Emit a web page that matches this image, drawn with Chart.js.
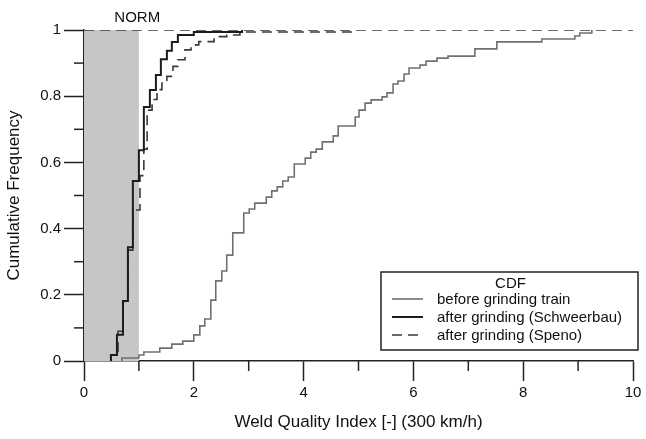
<!DOCTYPE html>
<html><head><meta charset="utf-8">
<script src="https://cdn.jsdelivr.net/npm/chart.js@4.4.1/dist/chart.umd.min.js"></script>
<style>html,body{margin:0;padding:0;background:#fff;} #wrap{width:646px;height:439px;position:relative;}</style>
</head><body><div id="wrap"><canvas id="c" width="646" height="439"></canvas></div>
<script>
// ---- data ----
const greyX = [0.69, 0.69, 1.00, 1.09, 1.38, 1.60, 1.80, 2.00, 2.11, 2.20, 2.31, 2.40, 2.51, 2.60, 2.71, 2.91, 3.01, 3.11, 3.32, 3.42, 3.52, 3.62, 3.72, 3.83, 4.03, 4.13, 4.23, 4.34, 4.54, 4.63, 4.94, 5.01, 5.12, 5.23, 5.43, 5.52, 5.63, 5.72, 5.83, 5.92, 6.12, 6.23, 6.43, 6.63, 7.12, 7.52, 8.34, 8.94, 9.03, 9.25];
const greyY = [0, 0.009, 0.018, 0.027, 0.039, 0.051, 0.060, 0.079, 0.106, 0.127, 0.184, 0.242, 0.272, 0.320, 0.387, 0.447, 0.459, 0.477, 0.495, 0.514, 0.526, 0.544, 0.556, 0.595, 0.613, 0.631, 0.640, 0.662, 0.680, 0.710, 0.737, 0.758, 0.779, 0.789, 0.798, 0.810, 0.837, 0.846, 0.867, 0.885, 0.894, 0.906, 0.915, 0.921, 0.943, 0.964, 0.973, 0.982, 0.991, 1.0];
const blackX = [0.49, 0.49, 0.60, 0.71, 0.80, 0.89, 1.00, 1.09, 1.20, 1.31, 1.40, 1.51, 1.60, 1.71, 2.00, 2.88];
const blackY = [0, 0.018, 0.079, 0.181, 0.344, 0.544, 0.637, 0.767, 0.819, 0.864, 0.912, 0.937, 0.964, 0.985, 0.994, 1.0];
const spenoX = [0.49, 0.49, 0.62, 0.71, 0.80, 0.89, 1.02, 1.09, 1.15, 1.24, 1.33, 1.42, 1.51, 1.62, 1.71, 1.84, 1.95, 2.09, 2.37, 2.60, 2.84, 4.88];
const spenoY = [0, 0.018, 0.09, 0.18, 0.335, 0.456, 0.56, 0.64, 0.758, 0.79, 0.82, 0.84, 0.86, 0.89, 0.91, 0.94, 0.955, 0.965, 0.98, 0.985, 0.994, 1.0];
const refX = [0, 10];
const refY = [1, 1];
const normX = [0, 1];
const normY = [1, 1];
const normLabel = 'NORM';
const normLabelX = 0.97;
const seriesNames = ['before grinding train', 'after grinding (Schweerbau)', 'after grinding (Speno)'];
const legendTitle = 'CDF';
const xTitle = 'Weld Quality Index [-] (300 km/h)';
const yTitle = 'Cumulative Frequency';
const xMinorTicks = [1, 3, 5, 7, 9];
const yMinorTicks = [0.1, 0.3, 0.5, 0.7, 0.9];

const pts = (xs, ys) => xs.map((x, i) => ({x: x, y: ys[i]}));
const FONT = 'Liberation Sans, Arial, Helvetica, sans-serif';
const AX = '#222';

const styles = [
  {color: '#707070', width: 1.6, dash: []},
  {color: '#1c1c1c', width: 2.0, dash: []},
  {color: '#3a3a3a', width: 1.6, dash: [10, 6]}
];

const extras = {
  id: 'extras',
  afterDraw(chart) {
    const ctx = chart.ctx, xs = chart.scales.x, ys = chart.scales.y, ca = chart.chartArea;
    ctx.save();
    ctx.strokeStyle = AX; ctx.lineWidth = 1.5;
    xMinorTicks.forEach(v => { const p = xs.getPixelForValue(v); ctx.beginPath(); ctx.moveTo(p, ca.bottom); ctx.lineTo(p, ca.bottom + 10); ctx.stroke(); });
    yMinorTicks.forEach(v => { const p = ys.getPixelForValue(v); ctx.beginPath(); ctx.moveTo(ca.left - 10, p); ctx.lineTo(ca.left, p); ctx.stroke(); });
    // NORM label
    ctx.fillStyle = '#111'; ctx.font = '15px ' + FONT; ctx.textAlign = 'center'; ctx.textBaseline = 'middle';
    ctx.fillText(normLabel, xs.getPixelForValue(normLabelX), ca.top - 12);
    // legend box
    const bw = 257, bh = 78;
    const bx = ca.right + 5 - bw, by = ca.bottom - 11 - bh;
    ctx.fillStyle = '#fff'; ctx.fillRect(bx, by, bw, bh);
    ctx.strokeStyle = '#222'; ctx.lineWidth = 1.5; ctx.strokeRect(bx, by, bw, bh);
    ctx.fillStyle = '#111'; ctx.font = '15px ' + FONT; ctx.textAlign = 'center';
    ctx.fillText(legendTitle, bx + bw / 2 + 1, by + 12);
    ctx.textAlign = 'left';
    seriesNames.forEach((n, i) => {
      const yy = by + 27 + i * 18;
      const st = styles[i];
      ctx.strokeStyle = st.color; ctx.lineWidth = st.width; ctx.setLineDash(st.dash);
      ctx.beginPath(); ctx.moveTo(bx + 11, yy); ctx.lineTo(bx + 42, yy); ctx.stroke();
      ctx.setLineDash([]);
      ctx.fillStyle = '#111';
      ctx.fillText(n, bx + 56, yy + 1);
    });
    ctx.restore();
  }
};

new Chart(document.getElementById('c'), {
  type: 'line',
  data: {
    datasets: [
      {label: seriesNames[1], data: pts(blackX, blackY), stepped: 'before', borderColor: styles[1].color, borderWidth: styles[1].width, pointRadius: 0, fill: false, order: 1},
      {label: seriesNames[2], data: pts(spenoX, spenoY), stepped: 'before', borderColor: styles[2].color, borderWidth: styles[2].width, borderDash: styles[2].dash, pointRadius: 0, fill: false, order: 2},
      {label: 'ref', data: pts(refX, refY), borderColor: styles[2].color, borderWidth: styles[2].width, borderDash: styles[2].dash, pointRadius: 0, fill: false, order: 3},
      {label: seriesNames[0], data: pts(greyX, greyY), stepped: 'before', borderColor: styles[0].color, borderWidth: styles[0].width, pointRadius: 0, fill: false, order: 4},
      {label: 'NORM', data: pts(normX, normY), borderWidth: 0, borderColor: 'rgba(0,0,0,0)', backgroundColor: '#c6c6c6', pointRadius: 0, fill: 'origin', order: 10}
    ]
  },
  options: {
    responsive: false,
    animation: false,
    layout: {padding: {top: 30, right: 13, bottom: 0, left: 0}},
    plugins: {legend: {display: false}, tooltip: {enabled: false}},
    scales: {
      x: {
        type: 'linear', min: 0, max: 10,
        afterFit: s => { s.height = 78; },
        border: {display: true, color: AX, width: 1.5},
        grid: {drawOnChartArea: false, tickLength: 20, tickWidth: 1.5,
          tickColor: c => (Math.round(c.tick.value) % 2 === 0 ? AX : 'rgba(0,0,0,0)')},
        ticks: {stepSize: 1, autoSkip: false, maxRotation: 0, padding: 3, color: '#111', font: {family: FONT, size: 15},
          callback: v => (Math.round(v) % 2 === 0 ? String(Math.round(v)) : '')},
        title: {display: true, text: xTitle, color: '#111', font: {family: FONT, size: 17}, padding: {top: 0, bottom: 6}}
      },
      y: {
        type: 'linear', min: 0, max: 1,
        afterFit: s => { s.width = 84; },
        border: {display: true, color: AX, width: 1.5},
        grid: {drawOnChartArea: false, tickLength: 20, tickWidth: 1.5,
          tickColor: c => (Math.round(c.tick.value * 10) % 2 === 0 ? AX : 'rgba(0,0,0,0)')},
        ticks: {stepSize: 0.1, autoSkip: false, padding: 3, color: '#111', font: {family: FONT, size: 15},
          callback: v => { const k = Math.round(v * 10); return k % 2 === 0 ? String(k / 10) : ''; }},
        title: {display: true, text: yTitle, color: '#111', font: {family: FONT, size: 17}, padding: {top: 4, bottom: 0}}
      }
    }
  },
  plugins: [extras]
});
</script></body></html>
